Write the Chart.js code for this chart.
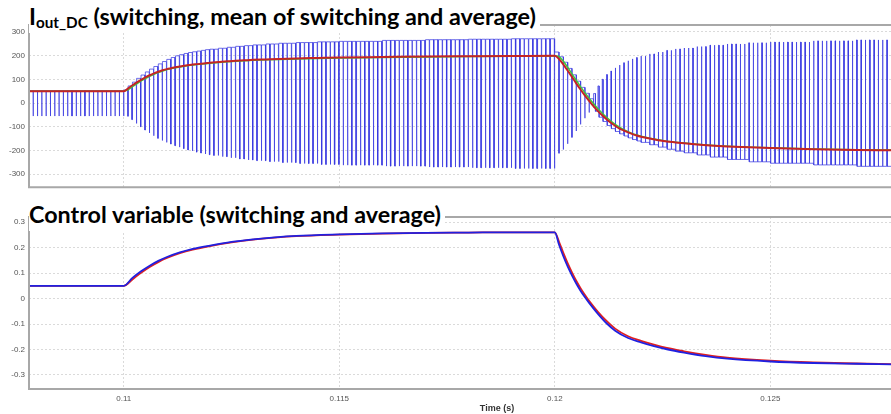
<!DOCTYPE html>
<html>
<head>
<meta charset="utf-8">
<script src="https://cdn.jsdelivr.net/npm/chart.js@4.4.0/dist/chart.umd.min.js"></script>
<style>
  body { margin: 0; background: #fff; }
  #wrap { position: relative; width: 891px; height: 414px; overflow: hidden; background: #fff; }
  #topChart { position: absolute; left: 0; top: 0; }
  #bottomChart { position: absolute; left: 0; top: 196px; }
  .title { position: absolute; left: 29px; background: #fff; font-family: Lato, sans-serif; font-weight: bold;
           font-size: 23px; color: #000; white-space: nowrap; height: 34px; line-height: 34px; overflow: hidden; }
  .title .txt { display: inline-block; transform-origin: 0 0; }
  .title .sub { font-size: 15px; position: relative; top: 3px; }
  #t1 { top: -1px; }
  #t2 { top: 197px; }
  #timeLabel { position: absolute; left: 497px; top: 403px; transform: translateX(-50%);
               font: bold 9px "Liberation Sans", sans-serif; color: #333; }
</style>
</head>
<body>
<div id="wrap">
  <canvas id="topChart" width="891" height="196"></canvas>
  <canvas id="bottomChart" width="891" height="218"></canvas>
  <div class="title" id="t1"><span class="txt">I<span class="sub">out_DC</span> (switching, mean of switching and average)</span></div>
  <div class="title" id="t2"><span class="txt">Control variable (switching and average)</span></div>
  <div id="timeLabel">Time (s)</div>
</div>
<script>
// time axis
const startTime = 0.1078, endTime = 0.1278;
const period = 0.0001, periodCount = 200;   // 10 kHz switching
const timeTicks = [0.11, 0.115, 0.12, 0.125];
const currentTicks = [-300, -200, -100, 0, 100, 200, 300];
const controlTicks = [-0.3, -0.2, -0.1, 0, 0.1, 0.2, 0.3];

// I_out_DC readings (A)
const sampleTimes = [0.1078,
  0.1100, 0.1101, 0.1102, 0.1103, 0.1104, 0.1105, 0.1106, 0.1107, 0.1108, 0.1109,
  0.1110, 0.1111, 0.1112, 0.1113, 0.1114, 0.1115, 0.1116, 0.1117, 0.1118, 0.1119,
  0.1120, 0.1122, 0.1124, 0.1126, 0.1128, 0.1130, 0.1133, 0.1136, 0.1140, 0.1145, 0.1150, 0.1160, 0.1170, 0.1180, 0.1190,
  0.1200, 0.1201, 0.1202, 0.1203, 0.1204, 0.1205, 0.1206, 0.1207, 0.1208, 0.1209,
  0.1210, 0.1211, 0.1212, 0.1213, 0.1214, 0.1215, 0.1216, 0.1217, 0.1218, 0.1219,
  0.1220, 0.1222, 0.1224, 0.1226, 0.1228, 0.1230, 0.1233, 0.1236, 0.1240, 0.1245, 0.1250, 0.1260, 0.1270, 0.1278];
const upperEnv = [52,
  55, 72, 88, 104, 118, 131, 143, 154, 165, 175,
  184, 192, 199, 204, 209, 213, 216, 219, 222, 225,
  227, 231, 235, 239, 242, 245, 249, 252, 255, 258, 260, 264, 267, 269, 271,
  215, 195, 172, 146, 119, 92, 66, 41, 18, 40,
  72, 100, 120, 135, 148, 160, 170, 178, 186, 192,
  198, 207, 215, 222, 228, 232, 238, 244, 249, 254, 257, 262, 266, 268];
const lowerEnv = [-55,
  -56, -70, -86, -100, -114, -126, -138, -149, -158, -166,
  -173, -180, -186, -192, -198, -202, -207, -211, -215, -218,
  -221, -226, -231, -236, -240, -243, -247, -251, -255, -259, -262, -266, -270, -273, -276,
  -212, -196, -172, -145, -118, -90, -64, -40, -18, -35,
  -60, -78, -95, -108, -120, -130, -139, -147, -154, -160,
  -166, -176, -186, -195, -203, -210, -219, -228, -238, -248, -254, -261, -267, -270];
const meanSwitching = [50,
  50, 56, 69, 81, 93, 103, 113, 121, 129, 135,
  141, 145, 149, 152, 155, 158, 160, 162, 164, 166,
  168, 171, 174, 176, 178, 180, 182, 184, 186, 188, 190, 192, 194, 196, 197,
  199, 196, 176, 150, 122, 95, 68, 43, 19, -3,
  -24, -43, -60, -76, -90, -102, -112, -121, -129, -135,
  -140, -148, -155, -161, -165, -169, -174, -178, -182, -186, -189, -194, -197, -198];
const averageCurrent = [50,
  50, 62, 75, 87, 98, 108, 117, 125, 132, 138,
  143, 147, 151, 154, 157, 160, 162, 164, 166, 168,
  170, 173, 176, 178, 180, 182, 184, 186, 188, 190, 192, 194, 196, 197, 198,
  199, 185, 162, 136, 109, 82, 56, 31, 8, -14,
  -34, -52, -68, -83, -96, -108, -116, -124, -131, -137,
  -142, -150, -157, -162, -166, -170, -175, -179, -183, -187, -190, -195, -198, -199];

// control variable readings
const ctrlTimes = [0.1078, 0.1100, 0.1102, 0.1104, 0.1106, 0.1108, 0.1110, 0.1113, 0.1116, 0.1120,
  0.1125, 0.1130, 0.1135, 0.1140, 0.1150, 0.1160, 0.1170, 0.1180, 0.1190, 0.1200,
  0.1201, 0.1202, 0.1203, 0.1204, 0.1205, 0.1206, 0.1207, 0.1208, 0.1210, 0.1212,
  0.1214, 0.1217, 0.1220, 0.1223, 0.1226, 0.1230, 0.1235, 0.1240, 0.1250, 0.1260, 0.1270, 0.1278];
const ctrlSwitching = [0.05, 0.05, 0.081, 0.107, 0.129, 0.148, 0.163, 0.181, 0.195, 0.208,
  0.222, 0.232, 0.24, 0.246, 0.252, 0.256, 0.258, 0.259, 0.26, 0.26,
  0.21, 0.165, 0.125, 0.09, 0.058, 0.03, 0.005, -0.018, -0.06, -0.097,
  -0.126, -0.155, -0.172, -0.187, -0.199, -0.212, -0.226, -0.236, -0.247, -0.253, -0.256, -0.258];
const ctrlAverage = [0.05, 0.05, 0.075, 0.101, 0.124, 0.143, 0.159, 0.178, 0.192, 0.206,
  0.22, 0.231, 0.239, 0.245, 0.251, 0.255, 0.258, 0.259, 0.26, 0.26,
  0.222, 0.178, 0.138, 0.102, 0.069, 0.04, 0.014, -0.01, -0.052, -0.088,
  -0.118, -0.148, -0.166, -0.181, -0.194, -0.207, -0.221, -0.232, -0.244, -0.251, -0.255, -0.257];

const pts = (xs, ys) => xs.map((x, i) => ({ x: x, y: ys[i] }));

// switching waveform: each period sits at the upper level, then drops to the lower one,
// using the envelope reading that holds at the start of the period
function holdIndex(t) {
  let i = 0;
  while (i + 1 < sampleTimes.length && sampleTimes[i + 1] <= t + 1e-9) i++;
  return i;
}
const switching = [];
for (let k = 0; k < periodCount; k++) {
  const t0 = startTime + k * period;
  const i = holdIndex(t0);
  const hi = upperEnv[i], lo = lowerEnv[i];
  let f = (meanSwitching[i] - lo) / (hi - lo);
  f = Math.min(0.97, Math.max(0.03, f));
  const tc = t0 + f * period;
  switching.push({ x: t0, y: hi }, { x: tc, y: hi }, { x: tc, y: lo }, { x: t0 + period, y: lo });
}

const tickFont = { family: 'Liberation Sans', size: 8 };

const framePlugin = {
  id: 'frame',
  afterDraw(chart) {
    const { ctx, chartArea: a } = chart;
    ctx.save();
    ctx.strokeStyle = '#a8a8a8';
    ctx.lineWidth = 2;
    ctx.beginPath();
    ctx.moveTo(a.right, a.top);
    ctx.lineTo(a.left, a.top);
    ctx.lineTo(a.left, a.bottom);
    ctx.lineTo(a.right, a.bottom);
    ctx.stroke();
    ctx.restore();
  }
};

function panelOptions(yMin, yMax, yTicks, showTime, padTop, padBottom) {
  const grid = { color: '#dadada', lineWidth: 1, drawTicks: false };
  const border = { display: false, dash: [2, 2] };
  return {
    responsive: false,
    animation: false,
    events: [],
    layout: { padding: { left: 0, right: 0, top: padTop, bottom: padBottom } },
    plugins: { legend: { display: false }, tooltip: { enabled: false } },
    scales: {
      x: {
        type: 'linear', min: startTime, max: endTime,
        afterBuildTicks: s => { s.ticks = timeTicks.map(v => ({ value: v })); },
        afterFit: s => { s.height = showTime ? 25 : 0; },
        grid: grid, border: border,
        ticks: { display: showTime, padding: 5, color: '#555', font: tickFont, maxRotation: 0,
                 autoSkip: false, callback: v => String(+v.toFixed(4)) }
      },
      y: {
        min: yMin, max: yMax,
        afterBuildTicks: s => { s.ticks = yTicks.map(v => ({ value: v })); },
        afterFit: s => { s.width = 29; },
        grid: grid, border: border,
        ticks: { padding: 4, color: '#555', font: tickFont, callback: v => String(v) }
      }
    }
  };
}

new Chart(document.getElementById('topChart'), {
  type: 'line',
  data: {
    datasets: [
      { label: 'average', data: pts(sampleTimes, averageCurrent), borderColor: '#c42424', borderWidth: 2,
        pointRadius: 0, cubicInterpolationMode: 'monotone', order: 0 },
      { label: 'mean of switching', data: pts(sampleTimes, meanSwitching), borderColor: '#3cc83c', borderWidth: 1.5,
        pointRadius: 0, tension: 0, order: 1 },
      { label: 'switching', data: switching, borderColor: 'rgba(55,55,225,0.72)', borderWidth: 1,
        pointRadius: 0, tension: 0, order: 2 }
    ]
  },
  options: panelOptions(-355, 329, currentTicks, false, 25, 5),
  plugins: [framePlugin]
});

new Chart(document.getElementById('bottomChart'), {
  type: 'line',
  data: {
    datasets: [
      { label: 'switching', data: pts(ctrlTimes, ctrlSwitching), borderColor: '#2020e0', borderWidth: 1.8,
        pointRadius: 0, cubicInterpolationMode: 'monotone', order: 0 },
      { label: 'average', data: pts(ctrlTimes, ctrlAverage), borderColor: '#e02020', borderWidth: 1.8,
        pointRadius: 0, cubicInterpolationMode: 'monotone', order: 1 }
    ]
  },
  options: panelOptions(-0.355, 0.32, controlTicks, true, 21, 0),
  plugins: [framePlugin]
});

// squeeze the panel titles to the width they take in the original
function fitTitle(id, width) {
  const box = document.getElementById(id);
  const txt = box.querySelector('.txt');
  const w = txt.getBoundingClientRect().width;
  txt.style.transform = 'scaleX(' + (width / w) + ')';
  box.style.width = (width + 4) + 'px';
}
fitTitle('t1', 507);
fitTitle('t2', 412);
</script>
</body>
</html>
